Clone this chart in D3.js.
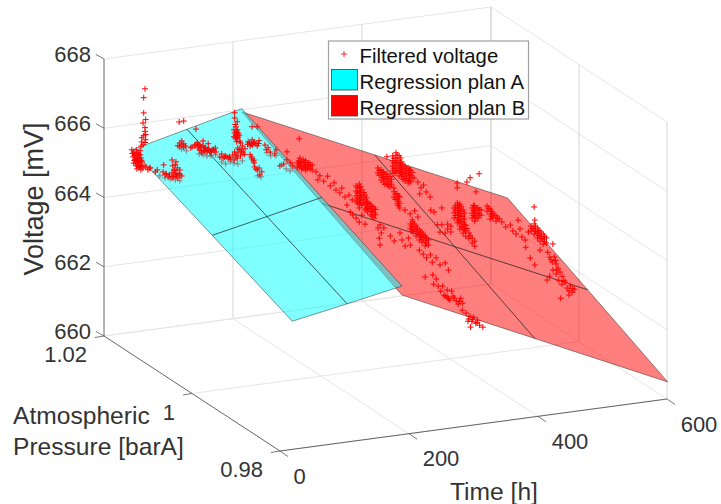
<!DOCTYPE html>
<html>
<head>
<meta charset="utf-8">
<script src="https://cdnjs.cloudflare.com/ajax/libs/d3/7.8.5/d3.min.js"></script>
<style>
  html, body { margin: 0; padding: 0; background: #fff; }
  text { font-family: "Liberation Sans", Arial, sans-serif; fill: #333; }
</style>
</head>
<body>
<svg id="chart" width="721" height="504"></svg>
<script>
// axis ticks
var timeTicks = [0, 200, 400, 600];
var pressureTicks = [1.02, 1, 0.98];
var voltageTicks = [660, 662, 664, 666, 668];

// regression plans, voltage rows follow the pressure grid
var planATime = [0, 85, 170];
var planBTime = [170, 376, 582];
var planPressure = [1.0136, 0.9954, 0.9772];
var planAVoltage = [
  [665.91, 666.29, 666.67],
  [664.95, 665.28, 665.62],
  [663.98, 664.27, 664.57]
];
var planBVoltage = [
  [666.58, 664.82, 663.06],
  [665.45, 663.68, 661.92],
  [664.31, 662.54, 660.77]
];

// filtered voltage, [time, voltage] per pressure reading
var samples1015 = [[9,665.77],[12,665.70],[16,665.75],[14,665.62],[19,665.65],[22,665.71],[11,665.56],[14,665.47],[17,665.52],[20,665.45],[23,665.50],[12,665.38],[16,665.29],[19,665.37],[22,665.30],[25,665.38],[17,665.20],[20,665.23],[23,665.16],[26,665.20],[16,665.46],[19,665.54],[22,665.59],[28,665.26],[31,665.22],[34,665.13],[37,665.17],
  [10,665.66],[13,665.60],[15,665.52],[18,665.44],[21,665.40],[24,665.43],[13,665.45],[15,665.36],[18,665.30],[21,665.25],[24,665.27],[20,665.60],[17,665.66]];
var samples1012 = [[9,667.78],[7,667.53],[7,667.09],[6,666.80],[10,666.89],[9,666.66],[10,666.46],[4,666.38],[4,666.26],[9,666.55],[10,666.31],[7,666.43],[6,666.17],[9,666.23],[3,666.14],
  [17,665.48],[28,665.39],[25,665.34],[37,665.31],[40,665.22],[51,665.25],[56,665.18],[63,665.16],[51,665.10],[60,665.08],[45,665.15],[56,665.47],[51,665.62],[57,665.55],[59,665.37],[38,665.51],[63,665.30],[54,665.33],[66,665.12],[57,665.23],
  [47,665.20],[53,665.14],[58,665.14],[62,665.20],[55,665.30],[52,665.45],[42,665.25],
  [60,666.01],[63,666.08],[63,665.97],[66,666.13],[66,666.02],[69,666.04],[69,665.95],[72,665.97],[62,666.69],[69,666.70],[88,666.42],
  [80,665.90],[86,665.94],[90,666.02],[91,665.87],[94,665.95],[94,665.80],[99,665.91],[100,665.76],[103,665.84],[105,665.72],[108,665.80],[110,665.71],[113,665.76],[116,665.72],[119,665.68],[97,665.71],[118,665.80],[99,666.05],[107,665.95],
  [82,665.92],[88,665.98],[92,665.92],[96,665.88],[96,665.78],[101,665.85],[102,665.75],[106,665.78],[109,665.74],[112,665.70],[115,665.76],
  [125,665.52],[130,665.48],[134,665.53],[138,665.46],[128,665.60],[132,665.50],[136,665.49],[140,665.48],
  [148,666.74],[148,666.59],[152,666.47],[150,666.33],[147,666.25],[152,666.24],[148,666.16],[153,666.15],[150,666.07],[155,666.06],[147,666.05],[152,665.98],[175,666.27],[183,666.25],
  [149,666.40],[151,666.20],[150,666.12],[154,666.11],[149,666.01],[153,666.02],[151,665.90],[156,665.90],
  [157,665.85],[160,665.75],[153,665.71],[158,665.64],[148,665.61],[153,665.57],[145,665.53],[150,665.46],[157,665.47],[161,665.55],[142,665.42],[147,665.38],[164,665.66],[169,665.85],[172,665.72],[175,665.89],[176,665.74],[179,665.82],[183,665.70],[186,665.84],
  [155,665.66],[150,665.52],[152,665.42],[159,665.60],[163,665.50],[168,665.78],[171,665.80],[174,665.78],[177,665.80],[181,665.76],[185,665.76],
  [172,665.47],[175,665.34],[178,665.22],[179,665.10],[183,665.00],[186,665.05],[187,664.85],[190,664.93],[174,665.40],[177,665.28],[181,665.03],
  [195,665.69],[200,665.60],[203,665.47],[197,665.55],[248,665.74],
  [370,664.59],[370,664.45],[375,664.52],[375,664.38],[375,664.23],[379,664.45],[379,664.31],[379,664.16],[384,664.38],[384,664.24],[384,664.10],[389,664.29],[389,664.14],[389,664.00],
  [372,664.52],[372,664.38],[377,664.45],[377,664.30],[381,664.38],[381,664.24],[381,664.09],[386,664.31],[386,664.17],[386,664.03],[391,664.21],[391,664.07],
  [393,664.88],[393,664.74],[393,664.59],[393,664.45],[398,664.96],[398,664.81],[398,664.67],[398,664.52],[398,664.38],[403,664.86],[403,664.71],[403,664.57],[403,664.42],[403,664.28],
  [395,664.81],[395,664.67],[395,664.52],[395,664.38],[400,664.89],[400,664.74],[400,664.60],[400,664.45],[405,664.79],[405,664.64],[405,664.50],[405,664.35],
  [407,664.67],[407,664.53],[407,664.38],[407,664.24],[412,664.54],[412,664.40],[412,664.25],[412,664.11],[417,664.47],[417,664.33],[417,664.18],[417,664.04],[421,664.40],[421,664.26],[421,664.06],[426,664.16],[384,664.88],
  [409,664.60],[409,664.46],[409,664.31],[409,664.17],[414,664.47],[414,664.33],[414,664.18],[419,664.40],[419,664.26],[419,664.11],[423,664.33],[423,664.19],
  [395,663.84],[395,663.69],[400,663.77],[400,663.62],[400,663.48],[404,663.67],[404,663.49],[404,663.35],[395,663.95],[397,663.77],[397,663.62],[402,663.70],[402,663.55],[402,663.42],
  [432,664.03],[437,663.85],[441,663.92],[445,663.71],[435,663.68],[451,663.55],
  [527,664.03],[513,663.95],[508,663.84],[493,663.85],[493,663.71],[522,663.52]];
var samples1007 = [[211,665.55],[211,665.41],[215,665.68],[215,665.54],[215,665.42],[220,665.62],[220,665.50],[220,665.38],[224,665.58],[224,665.43],[224,665.31],[229,665.51],[229,665.39],[234,665.43],[234,665.29],
  [213,665.60],[213,665.48],[217,665.57],[217,665.45],[222,665.54],[222,665.40],[227,665.47],[227,665.35],[231,665.45],[231,665.33],[218,665.35],
  [190,665.57],[195,665.91],[195,665.68],[200,665.58],[204,665.48],[184,665.53],[178,666.01],[176,665.90],
  [240,665.22],[246,665.09],[243,664.98],[252,664.92],[258,665.05],[262,664.76],[268,664.83],[271,664.62],[277,664.52],[280,664.65],[285,664.38],
  [378,663.77],[386,663.64],[393,663.71],[398,663.52],[389,663.46]];
var samples1002 = [[268,665.16],[268,665.01],[268,664.87],[268,664.72],[273,665.20],[273,665.09],[273,664.97],[273,664.86],[273,664.74],[273,664.62],[273,664.51],[277,665.02],[277,664.87],[277,664.73],[277,664.58],[282,664.86],[282,664.72],[282,664.57],[282,664.43],[286,664.65],[286,664.50],[286,664.36],[291,664.55],[291,664.40],[291,664.26],[296,664.45],[296,664.31],[296,664.16],[268,664.23],[273,664.10],[277,664.29],[282,664.02],[262,664.77],[257,664.92],[254,664.64],[259,664.43],[263,664.33],
  [270,665.10],[270,664.95],[270,664.80],[270,664.66],[275,665.12],[275,664.96],[275,664.80],[275,664.65],[280,664.94],[280,664.80],[280,664.65],[284,664.78],[284,664.62],[284,664.47],[288,664.60],[288,664.45],[293,664.50],[293,664.36],[293,664.22],[298,664.40],[298,664.25],
  [420,664.14],[420,664.00],[420,663.85],[425,664.27],[425,664.13],[425,663.99],[425,663.84],[425,663.70],[429,664.23],[429,664.09],[429,663.95],[429,663.80],[429,663.66],[429,663.51],[434,664.05],[434,663.87],[434,663.70],[434,663.53],[434,663.38],[438,663.60],[438,663.43],[438,663.28],[443,663.36],[443,663.21],[448,663.20],[448,663.06],[452,663.10],[452,662.96],
  [422,664.20],[422,664.07],[422,663.92],[427,664.20],[427,664.05],[427,663.92],[427,663.76],[431,664.15],[431,664.02],[431,663.87],[431,663.72],[431,663.58],[436,663.95],[436,663.78],[436,663.62],[436,663.47],[440,663.50],[445,663.28],
  [448,664.07],[448,663.92],[448,663.78],[452,664.12],[452,663.97],[452,663.83],[452,663.68],[457,664.05],[457,663.90],[457,663.76],[462,663.98],[462,663.83],[471,664.07],[471,663.92],[476,663.97],[476,663.83],[476,663.68],[480,663.84],[480,663.70],[485,663.75],[485,663.60],[490,663.65],
  [450,664.14],[450,664.00],[450,663.85],[454,664.05],[454,663.90],[454,663.76],[459,663.98],[459,663.84],[473,664.00],[478,663.90],[478,663.76],[482,663.78],[487,663.68],
  [410,663.70],[410,663.56],[415,663.63],[415,663.46],[406,663.45],[401,663.70],[401,664.19],[389,664.10],[384,664.17],[394,663.72],[398,663.50],[544,663.86]];
var samples0997 = [[268,664.36],[271,664.44],[273,664.20],[270,664.06],[271,663.86],[277,664.34],[287,664.08],[293,663.92],[302,664.13],[305,663.92],[310,663.73],[318,663.74],[315,663.95],
  [318,664.35],[318,664.21],[322,664.40],[322,664.25],[322,664.11],[327,664.27],[327,664.12],[327,663.98],[332,664.14],[332,664.00],[332,663.85],[336,664.07],[336,663.93],[336,663.78],[341,663.95],[341,663.80],[341,663.66],[346,663.82],[346,663.67],[332,663.56],[338,663.43],[343,663.31],[349,663.38],[352,663.16],[358,663.27],[364,663.05],[372,663.09],[377,662.87],[341,662.76],[353,662.79],
  [320,664.28],[320,664.14],[324,664.33],[324,664.18],[329,664.20],[329,664.05],[334,664.07],[334,663.92],[338,664.00],[338,663.86],[343,663.88],[343,663.73],
  [460,664.05],[466,663.89],[473,663.93],[477,663.75],[482,663.65],[488,663.78],[491,663.54],[496,663.44],[485,664.04],[501,663.66],[497,663.23],
  [505,663.82],[505,663.68],[510,663.87],[510,663.72],[510,663.58],[515,663.74],[515,663.60],[515,663.45],[519,663.64],[519,663.50],[519,663.35],[524,663.54],[524,663.40],[524,663.25],[529,663.42],[529,663.27],[511,663.98],[504,662.90],[511,662.68],[519,663.09],[539,663.22],
  [507,663.75],[512,663.80],[512,663.65],[517,663.67],[517,663.52],[521,663.58],[521,663.43],[526,663.47],[526,663.32]];
var samples0992 = [[497,663.50],[500,663.35],[504,663.20],[507,663.34],[510,663.13],[513,663.00],[505,662.97],[510,662.84],[516,662.88],[500,662.80],[496,662.70],[514,662.65],[519,662.52],[524,662.57],[527,662.39],[532,662.44],[535,662.25],[538,662.33],[530,662.18],[519,662.75],
  [502,663.27],[509,663.23],[511,662.95],[522,662.62],[530,662.30],[536,662.35]];
var samples0987 = [[286,663.52],[290,663.66],[293,663.45],[297,663.29],[302,663.16],[307,663.10],[311,663.00],[316,663.10],[321,662.95],[324,662.85],[328,663.01],[331,662.86],[307,663.30],[314,663.25],[300,663.43],[483,662.62],
  [304,663.13],[309,663.05],[318,663.04],[326,662.92]];
var samples0977 = [[262,663.66],[268,663.56],[274,663.46],[277,663.30],[280,663.41],[283,663.23],[286,663.31],[289,663.16],[294,663.09],[275,663.14],[271,663.32],
  [272,663.38],[278,663.35],[285,663.25]];
// these sit under plan A and show through it
var samplesUnderPlanA = [[32,665.21],[40,665.13],[48,665.08],[56,665.03],[63,664.99],[93,665.69],[99,665.65],[105,665.60],[111,665.59],[118,665.60],[128,665.37],[134,665.30],[141,665.34],[147,665.29],[153,665.25],[160,665.32],[184,664.83],[189,664.79],[179,665.30],[198,665.46],[204,665.36],[212,665.34],[221,665.05],[228,664.92],[234,664.85],[73,665.83],[66,665.90]];

var samplesOverPlans = [
  { pressure: 1.015, values: samples1015 },
  { pressure: 1.012, values: samples1012 },
  { pressure: 1.007, values: samples1007 },
  { pressure: 1.002, values: samples1002 },
  { pressure: 0.997, values: samples0997 },
  { pressure: 0.992, values: samples0992 },
  { pressure: 0.987, values: samples0987 },
  { pressure: 0.977, values: samples0977 }
];

var svg = d3.select('#chart');

// fixed view of the box, every axis adds its own screen shift
var originX = 104, originY = 336;
var timeToX = d3.scaleLinear().domain([0, 600]).range([0, 387]);
var timeToY = d3.scaleLinear().domain([0, 600]).range([0, -52]);
var pressureToX = d3.scaleLinear().domain([1.02, 0.98]).range([0, 176]);
var pressureToY = d3.scaleLinear().domain([1.02, 0.98]).range([0, 115]);
var voltageToY = d3.scaleLinear().domain([660, 668]).range([0, -277]);

var project = function(t, p, v) {
  return [
    originX + timeToX(t) + pressureToX(p),
    originY + timeToY(t) + pressureToY(p) + voltageToY(v)
  ];
};

var line3d = d3.line();

var segment = function(group, a, b, color, width) {
  group.append('path')
    .attr('d', line3d([project(a[0], a[1], a[2]), project(b[0], b[1], b[2])]))
    .attr('fill', 'none')
    .attr('stroke', color)
    .attr('stroke-width', width);
};

// grid on back wall, right wall and floor, uprights read darker
var gridColor = '#e6e6e6';
var gridUpright = '#d6d6d6';
var grid = svg.append('g').attr('class', 'grid');
voltageTicks.forEach(function(v) {
  segment(grid, [0, 1.02, v], [600, 1.02, v], gridColor, 1);
  segment(grid, [600, 1.02, v], [600, 0.98, v], gridColor, 1);
});
timeTicks.forEach(function(t) {
  if (t > 0) {
    segment(grid, [t, 1.02, 660], [t, 1.02, 668], gridUpright, 1);
    if (t < 600) {
      segment(grid, [t, 1.02, 660], [t, 0.98, 660], gridColor, 1);
    }
  }
});
pressureTicks.forEach(function(p) {
  segment(grid, [0, p, 660], [600, p, 660], gridColor, 1);
  segment(grid, [600, p, 660], [600, p, 668], gridUpright, 1);
});

var drawSamples = function(group, values, pressure) {
  group.selectAll(null)
    .data(values)
    .enter().append('path')
    .attr('transform', function(d) {
      return 'translate(' + project(d[0], pressure, d[1]).join(',') + ')';
    })
    .attr('d', 'M-3,0H3M0,-3V3')
    .attr('fill', 'none')
    .attr('stroke', '#ff0000')
    .attr('stroke-width', 1);
};

var drawPlan = function(times, voltages, color) {
  var group = svg.append('g').attr('class', 'plan');
  var cells = [];
  d3.range(2).forEach(function(r) {
    d3.range(2).forEach(function(c) {
      cells.push([
        project(times[c], planPressure[r], voltages[r][c]),
        project(times[c + 1], planPressure[r], voltages[r][c + 1]),
        project(times[c + 1], planPressure[r + 1], voltages[r + 1][c + 1]),
        project(times[c], planPressure[r + 1], voltages[r + 1][c])
      ]);
    });
  });
  group.selectAll('path')
    .data(cells)
    .enter().append('path')
    .attr('d', function(d) { return line3d(d) + 'Z'; })
    .attr('fill', color)
    .attr('fill-opacity', 0.5)
    .attr('stroke', '#262626')
    .attr('stroke-opacity', 0.7)
    .attr('stroke-width', 0.7);
};

drawSamples(svg.append('g'), samplesUnderPlanA, 1.012);
drawPlan(planBTime, planBVoltage, '#ff0000');
drawPlan(planATime, planAVoltage, '#00ffff');
var over = svg.append('g');
samplesOverPlans.forEach(function(s) {
  drawSamples(over, s.values, s.pressure);
});

// axes
var axisColor = '#555';
var axes = svg.append('g').attr('class', 'axes');
segment(axes, [0, 1.02, 660], [0, 1.02, 668], axisColor, 0.9);
segment(axes, [0, 1.02, 660], [0, 0.98, 660], axisColor, 0.9);
segment(axes, [0, 0.98, 660], [600, 0.98, 660], axisColor, 0.9);

var tick = function(from, dx, dy) {
  axes.append('path')
    .attr('d', 'M' + from[0] + ',' + from[1] + 'l' + dx + ',' + dy)
    .attr('fill', 'none')
    .attr('stroke', axisColor)
    .attr('stroke-width', 0.8);
};
voltageTicks.forEach(function(v) { tick(project(0, 1.02, v), -8, -4.5); });
pressureTicks.forEach(function(p) { tick(project(0, p, 660), -9, 1.5); });
timeTicks.forEach(function(t) { tick(project(t, 0.98, 660), 8, 5.5); });

var labels = svg.append('g').attr('class', 'labels').style('font-size', '22px');
labels.selectAll('text.v')
  .data(voltageTicks)
  .enter().append('text')
  .attr('class', 'v')
  .attr('text-anchor', 'end')
  .attr('x', function(d) { return project(0, 1.02, d)[0] - 13; })
  .attr('y', function(d) { return project(0, 1.02, d)[1] + 3; })
  .text(function(d) { return d; });
labels.selectAll('text.p')
  .data(pressureTicks)
  .enter().append('text')
  .attr('class', 'p')
  .attr('text-anchor', 'end')
  .attr('x', function(d) { return project(0, d, 660)[0] - 17; })
  .attr('y', function(d) { return project(0, d, 660)[1] + 26; })
  .text(function(d) { return d; });
labels.selectAll('text.t')
  .data(timeTicks)
  .enter().append('text')
  .attr('class', 't')
  .attr('text-anchor', 'middle')
  .attr('x', function(d) { return project(d, 0.98, 660)[0] + (d === 0 ? 19.5 : 32); })
  .attr('y', function(d) { return project(d, 0.98, 660)[1] + 32.5; })
  .text(function(d) { return d; });

var titles = svg.append('g').attr('class', 'titles').style('font-size', '24.6px');
titles.append('text')
  .attr('transform', 'translate(43,199) rotate(-90)')
  .attr('text-anchor', 'middle')
  .style('font-size', '27px')
  .text('Voltage [mV]');
titles.append('text').attr('x', 13).attr('y', 424).text('Atmospheric');
titles.append('text').attr('x', 13).attr('y', 455).text('Pressure [barA]');
titles.append('text').attr('x', 450).attr('y', 500).text('Time [h]');

// legend
var legend = svg.append('g').attr('class', 'legend');
legend.append('rect')
  .attr('x', 328.5).attr('y', 41)
  .attr('width', 200).attr('height', 78)
  .attr('fill', '#fff')
  .attr('stroke', '#a0a0a0')
  .attr('stroke-width', 1.2);
legend.append('path')
  .attr('d', 'M341,54H347M344,51V57')
  .attr('fill', 'none')
  .attr('stroke', '#ff0000')
  .attr('stroke-width', 0.8);
[['#00ffff', 69.5], ['#ff0000', 95.5]].forEach(function(d) {
  legend.append('rect')
    .attr('x', 331.5).attr('y', d[1])
    .attr('width', 26).attr('height', 20.5)
    .attr('fill', d[0])
    .attr('stroke', '#404040')
    .attr('stroke-width', 0.8);
});
legend.selectAll('text')
  .data(['Filtered voltage', 'Regression plan A', 'Regression plan B'])
  .enter().append('text')
  .attr('x', 359.5)
  .attr('y', function(d, i) { return 62.5 + i * 26; })
  .style('font-size', '20.3px')
  .style('fill', '#111')
  .text(function(d) { return d; });
</script>
</body>
</html>
